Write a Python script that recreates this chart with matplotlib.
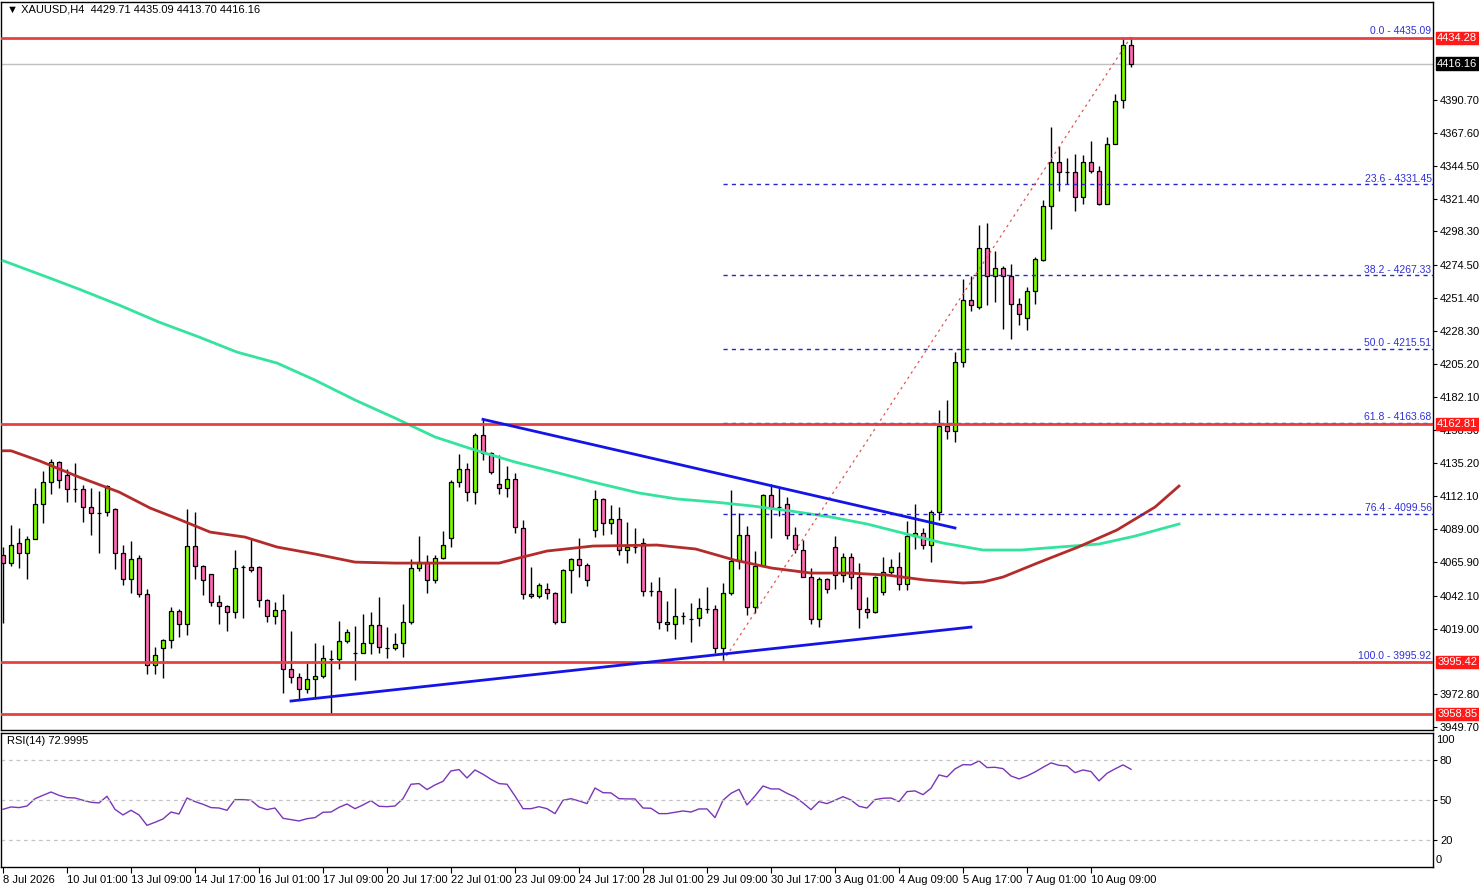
import numpy as np
import matplotlib
matplotlib.use('Agg')
import matplotlib.pyplot as plt

plt.rcParams['font.family'] = ['Liberation Sans Narrow', 'Liberation Sans', 'DejaVu Sans']
plt.rcParams['font.size'] = 8

# XAUUSD H4 candles
opens = [4070.7, 4065.0, 4079.1, 4072.1, 4081.9, 4106.5, 4122.0, 4136.1, 4126.9, 4117.1,
         4117.1, 4104.4, 4100.2, 4100.9, 4103.0, 4072.1, 4053.8, 4068.6, 4043.2, 3993.3,
         4005.3, 4010.9, 4031.3, 4022.1, 4077.0, 4062.9, 4057.3, 4037.6, 4034.8, 4030.6,
         4062.2, 4062.2, 4062.2, 4039.0, 4027.8, 4032.0, 3990.5, 3984.9, 3976.4, 3983.5,
         3985.6, 3997.5, 3997.5, 4010.2, 4001.8, 4001.8, 4008.8, 4021.4, 4005.3, 4005.3,
         4008.8, 4023.5, 4061.5, 4065.7, 4053.1, 4068.6, 4082.6, 4122.0, 4131.2, 4115.0,
         4155.1, 4142.4, 4120.6, 4117.8, 4124.1, 4089.7, 4043.2, 4041.8, 4046.8, 4043.9,
         4023.5, 4060.1, 4067.9, 4063.6, 4088.3, 4110.1, 4093.2, 4096.0, 4074.2, 4076.3,
         4079.1, 4045.4, 4045.4, 4023.5, 4022.1, 4027.8, 4025.7, 4026.4, 4032.7, 4032.7,
         4005.3, 4043.9, 4066.5, 4084.7, 4034.1, 4062.9, 4112.9, 4104.4, 4106.5, 4084.7,
         4074.2, 4055.2, 4025.7, 4053.8, 4076.3, 4056.6, 4069.3, 4055.2, 4032.7, 4030.6,
         4044.6, 4058.7, 4062.2, 4050.3, 4084.0, 4086.1, 4077.7, 4100.9, 4161.4, 4157.9,
         4206.4, 4250.0, 4245.1, 4286.6, 4266.9, 4272.5, 4266.9, 4247.2, 4237.4, 4256.3,
         4278.1, 4316.1, 4347.1, 4340.0, 4340.0, 4322.5, 4347.1, 4340.7, 4317.5, 4359.7,
         4390.7, 4429.71]
highs = [4076.3, 4091.8, 4089.7, 4084.0, 4117.8, 4129.7, 4138.2, 4136.8, 4131.2, 4135.4,
         4119.9, 4117.8, 4115.7, 4119.9, 4103.7, 4077.7, 4080.5, 4070.7, 4046.8, 4006.0,
         4011.6, 4034.1, 4032.7, 4103.0, 4100.9, 4063.6, 4057.5, 4042.5, 4035.5, 4074.2,
         4063.6, 4081.9, 4062.9, 4039.7, 4037.6, 4043.2, 4017.2, 3987.7, 3994.7, 4008.8,
         4007.4, 4003.9, 4024.3, 4018.6, 4020.7, 4029.2, 4030.6, 4041.1, 4020.0, 4015.8,
         4036.2, 4067.9, 4084.0, 4070.7, 4070.7, 4087.6, 4123.4, 4141.7, 4135.4, 4156.5,
         4166.1, 4143.1, 4141.0, 4133.3, 4128.3, 4095.3, 4062.2, 4051.0, 4051.0, 4044.6,
         4060.8, 4068.6, 4082.6, 4065.0, 4116.4, 4110.8, 4105.8, 4104.4, 4093.9, 4089.7,
         4082.6, 4051.7, 4055.2, 4038.3, 4047.5, 4030.6, 4036.9, 4040.4, 4048.2, 4035.5,
         4051.0, 4116.4, 4100.2, 4091.1, 4073.5, 4113.6, 4120.6, 4117.8, 4111.5, 4090.4,
         4081.2, 4061.5, 4055.2, 4054.5, 4084.0, 4072.1, 4072.1, 4065.0, 4041.1, 4055.9,
         4069.3, 4067.9, 4072.8, 4094.6, 4106.5, 4089.7, 4102.3, 4172.6, 4179.7, 4213.4,
         4264.8, 4266.9, 4302.8, 4304.2, 4284.5, 4273.9, 4275.3, 4251.4, 4259.2, 4280.3,
         4320.3, 4371.7, 4358.3, 4349.9, 4352.7, 4352.0, 4361.8, 4344.3, 4364.7, 4394.9,
         4434.0, 4435.09]
lows = [4022.8, 4062.9, 4061.5, 4053.8, 4081.9, 4093.2, 4113.6, 4117.8, 4107.9, 4107.9,
        4093.9, 4084.7, 4072.1, 4098.1, 4060.8, 4049.6, 4043.9, 4041.1, 3987.0, 3987.0,
        3984.2, 4005.3, 4013.0, 4014.4, 4053.8, 4042.5, 4034.8, 4022.1, 4017.2, 4026.4,
        4026.4, 4058.7, 4034.1, 4023.5, 4022.1, 3973.6, 3980.7, 3969.4, 3973.6, 3970.1,
        3984.2, 3958.85, 3990.5, 4008.8, 3982.8, 4001.8, 4001.0, 4001.8, 3998.2, 4003.9,
        3998.9, 4022.1, 4059.4, 4043.9, 4051.0, 4067.9, 4076.3, 4118.5, 4108.6, 4106.5,
        4137.5, 4127.6, 4113.6, 4111.5, 4086.1, 4039.7, 4040.4, 4040.4, 4039.7, 4022.1,
        4023.5, 4043.9, 4055.2, 4048.9, 4083.3, 4084.7, 4085.4, 4070.7, 4065.0, 4072.1,
        4041.8, 4041.8, 4018.6, 4017.2, 4011.6, 4022.1, 4009.5, 4020.7, 4029.9, 4001.8,
        3995.92, 4042.5, 4060.8, 4028.5, 4029.9, 4062.9, 4082.6, 4098.1, 4081.9, 4072.1,
        4055.2, 4022.1, 4020.0, 4043.9, 4046.8, 4051.7, 4046.8, 4019.3, 4026.4, 4029.9,
        4042.5, 4057.3, 4046.1, 4046.1, 4074.9, 4074.9, 4065.7, 4095.3, 4152.2, 4150.1,
        4202.9, 4242.3, 4243.7, 4246.5, 4248.6, 4229.6, 4222.6, 4232.4, 4228.9, 4247.2,
        4277.4, 4299.9, 4326.7, 4331.6, 4312.6, 4317.5, 4339.3, 4316.8, 4317.5, 4359.7,
        4385.0, 4413.70]
closes = [4065.0, 4077.7, 4072.1, 4081.9, 4106.5, 4122.0, 4136.1, 4123.4, 4117.1, 4117.0,
          4104.4, 4100.2, 4100.3, 4119.2, 4072.1, 4053.8, 4067.9, 4043.2, 3993.3, 4000.3,
          4010.9, 4031.3, 4022.1, 4077.0, 4062.9, 4053.1, 4037.6, 4034.8, 4030.6, 4061.5,
          4062.2, 4060.1, 4039.0, 4027.8, 4032.0, 3990.5, 3984.9, 3976.4, 3983.5, 3985.6,
          3998.2, 3997.5, 4010.2, 4016.5, 4001.8, 4008.8, 4021.4, 4006.0, 4005.3, 4008.1,
          4023.5, 4061.5, 4065.7, 4053.1, 4068.6, 4077.7, 4122.0, 4131.2, 4115.0, 4155.1,
          4142.4, 4129.0, 4117.8, 4124.1, 4090.4, 4043.2, 4041.8, 4049.6, 4043.9, 4023.5,
          4060.1, 4067.9, 4063.6, 4053.1, 4110.1, 4093.2, 4096.0, 4074.2, 4076.3, 4076.3,
          4045.4, 4045.4, 4023.5, 4022.1, 4027.8, 4027.8, 4025.7, 4033.4, 4032.7, 4005.3,
          4043.9, 4066.5, 4084.7, 4034.1, 4062.9, 4112.9, 4104.4, 4104.4, 4084.7, 4074.9,
          4055.2, 4025.7, 4053.8, 4046.8, 4056.6, 4069.3, 4055.2, 4032.7, 4030.6, 4055.2,
          4058.7, 4062.2, 4050.3, 4084.0, 4086.1, 4077.7, 4100.9, 4161.4, 4157.9, 4206.4,
          4250.0, 4246.5, 4286.6, 4266.9, 4272.5, 4266.9, 4247.2, 4240.2, 4256.3, 4278.9,
          4316.1, 4347.1, 4340.0, 4340.0, 4322.5, 4347.1, 4340.7, 4317.5, 4359.7, 4390.0,
          4429.4, 4416.16]

rsi = [43.0, 44.8, 44.3, 45.5, 51.0, 53.5, 56.0, 53.5, 51.8, 51.5,
       49.8, 48.3, 47.8, 52.8, 43.0, 38.8, 42.3, 38.8, 31.0, 33.3,
       35.8, 41.0, 39.5, 51.5, 48.8, 46.8, 44.3, 44.0, 42.3, 50.3,
       50.3, 49.8, 44.8, 42.8, 44.0, 36.3, 35.3, 34.3, 36.0, 36.8,
       40.8, 41.0, 44.5, 47.0, 43.5, 46.3, 49.5, 45.3, 45.0, 45.5,
       51.0, 61.8, 62.3, 57.8, 61.3, 64.0, 71.8, 72.8, 66.5, 72.5,
       69.3, 65.5, 62.3, 61.8, 53.0, 43.5, 43.5, 45.0, 43.5, 39.8,
       49.8, 51.0, 49.3, 47.3, 59.0, 55.5, 55.3, 51.0, 50.8, 50.8,
       44.0, 43.8, 39.8, 39.8, 40.8, 41.8, 41.0, 43.3, 43.3, 36.8,
       49.8, 55.0, 58.0, 46.3, 53.0, 60.5, 58.3, 58.3, 55.0, 52.3,
       47.8, 42.8, 48.8, 47.3, 49.8, 52.5, 50.0, 45.3, 44.0, 50.3,
       51.3, 51.5, 48.8, 56.3, 56.8, 54.0, 58.8, 68.8, 67.3, 73.3,
       76.5, 76.3, 79.3, 74.3, 74.5, 73.5, 68.0, 65.8, 68.0, 71.0,
       74.5, 77.8, 76.0, 75.5, 70.5, 72.5, 71.3, 64.3, 70.0, 73.3,
       76.3, 73.0]

# moving averages (shifted forward), sampled along the curve
ma_slow_bar = [0, 5.5, 9.5, 14.5, 19.5, 24.5, 29.25, 34.25, 39, 44, 49, 54, 59, 64, 69,
               73.75, 79.5, 84.25, 89, 93.75, 98.5, 103.5, 108, 113, 117.5, 122.5, 127.25,
               132, 137, 141.5, 147]
ma_slow_val = [4277.7, 4266.2, 4257.7, 4246.5, 4234.5, 4224.0, 4213.4, 4205.7, 4193.7, 4179.7,
               4167.0, 4153.7, 4144.5, 4136.1, 4129.0, 4122.0, 4114.3, 4110.1, 4107.9, 4105.1,
               4101.6, 4097.4, 4092.5, 4085.4, 4079.1, 4074.2, 4074.2, 4076.3, 4078.4, 4084.0,
               4092.5]
ma_fast_bar = [0, 1, 4.6, 9.5, 14.5, 18.4, 21.9, 25.9, 30.25, 34.25, 39, 44, 49, 54, 62, 64,
               68, 73.75, 81.75, 86.6, 91.4, 96.1, 101, 105.75, 110.5, 115.25, 120, 122.5,
               125, 129.6, 134.4, 139.25, 144, 147]
ma_fast_val = [4144.0, 4144.0, 4136.8, 4125.5, 4115.0, 4103.7, 4096.0, 4086.8, 4083.3, 4076.3,
               4071.4, 4065.7, 4065.0, 4065.0, 4065.0, 4067.9, 4073.5, 4077.0, 4077.7, 4074.9,
               4067.2, 4061.5, 4058.0, 4058.0, 4056.6, 4053.1, 4051.0, 4051.7, 4055.2, 4065.7,
               4076.3, 4088.3, 4104.4, 4119.2]

# drawn objects
hlevels = [4434.28, 4162.81, 3995.42, 3958.85]
res_line_bar = [60, 119]
res_line_val = [4166.1, 4089.7]
sup_line_bar = [36, 121]
sup_line_val = [3968.0, 4020.0]
fib_start = 90
fib_pct = [0.0, 23.6, 38.2, 50.0, 61.8, 76.4, 100.0]
fib_val = [4435.09, 4331.45, 4267.33, 4215.51, 4163.68, 4099.56, 3995.92]
fib_diag_bar = [90, 141]
fib_diag_val = [3995.92, 4435.09]
bid = 4416.16

price_ticks = [4390.70, 4367.60, 4344.50, 4321.40, 4298.30, 4274.50,
               4251.40, 4228.30, 4205.20, 4182.10, 4158.50, 4135.20, 4112.10, 4089.00,
               4065.90, 4042.10, 4019.00, 3972.80, 3949.70]
time_labels = ['8 Jul 2026', '10 Jul 01:00', '13 Jul 09:00', '14 Jul 17:00', '16 Jul 01:00',
               '17 Jul 09:00', '20 Jul 17:00', '22 Jul 01:00', '23 Jul 09:00', '24 Jul 17:00',
               '28 Jul 01:00', '29 Jul 09:00', '30 Jul 17:00', '3 Aug 01:00', '4 Aug 09:00',
               '5 Aug 17:00', '7 Aug 01:00', '10 Aug 09:00']

W, H = 1479, 888
fig = plt.figure(figsize=(W / 100, H / 100), dpi=100)


def px_axes(x0, y0, x1, y1):
    return fig.add_axes([x0 / W, 1 - y1 / H, (x1 - x0) / W, (y1 - y0) / H])


ax = px_axes(1, 2, 1433, 730)
axr = px_axes(1, 733, 1433, 867)

o = np.array(opens)
h = np.array(highs)
l = np.array(lows)
c = np.array(closes)
x = np.arange(len(o))
up = c >= o
cols = np.where(up, '#7cfc00', '#ff69b4')

ax.vlines(x, l, h, color='black', lw=1, zorder=2)
ax.bar(x, np.abs(c - o), width=0.5, bottom=np.minimum(o, c), color=cols,
       edgecolor='black', linewidth=0.9, zorder=2.2)

ax.plot(ma_slow_bar, ma_slow_val, color='#33e39e', lw=2, zorder=3)
ax.plot(ma_fast_bar, ma_fast_val, color='#b32b2b', lw=2, zorder=3)

ax.axhline(bid, color='#c0c0c0', lw=1, zorder=1)
# 0 and 100 levels sit under the red lines, so only the inner levels are drawn
for lv in fib_val[1:-1]:
    ax.plot([fib_start, 300], [lv, lv], color='#2828c8', lw=1, ls=(0, (3, 3)), zorder=3)
for pct, lv in zip(fib_pct, fib_val):
    ax.annotate(f'{pct:.1f} - {lv:.2f}', xy=(0.999, lv), xycoords=('axes fraction', 'data'),
                xytext=(0, 0.5), textcoords='offset points', ha='right', va='bottom',
                color='#3030d8', fontsize=7.5, zorder=5)
ax.plot(fib_diag_bar, fib_diag_val, color='#e05555', lw=0.9, ls=(0, (2, 3)), zorder=3)

for lv in hlevels:
    ax.axhline(lv, color='#e84040', lw=2, zorder=4)
ax.plot(res_line_bar, res_line_val, color='#1414e6', lw=2, zorder=4)
ax.plot(sup_line_bar, sup_line_val, color='#1414e6', lw=2, zorder=4)

xlim = (-0.25, 178.75)
ax.set_xlim(xlim)
ax.set_ylim(4461.03 - 0.7033 * 730, 4461.03 - 0.7033 * 2)
ax.set_xticks([])
ax.yaxis.tick_right()
ax.set_yticks(price_ticks, [f'{v:.2f}' for v in price_ticks])
ax.tick_params(axis='y', direction='out', length=3, pad=2, labelsize=8, width=0.8)

for lv in hlevels:
    ax.annotate(f'{lv:.2f}', xy=(1, lv), xycoords=('axes fraction', 'data'),
                xytext=(3, 0), textcoords='offset points', ha='left', va='center',
                color='white', fontsize=8, zorder=6, annotation_clip=False,
                bbox=dict(boxstyle='square,pad=0.12', fc='#ff1a1a', ec='#ff1a1a'))
ax.annotate(f'{bid:.2f}', xy=(1, bid), xycoords=('axes fraction', 'data'),
            xytext=(3, 0), textcoords='offset points', ha='left', va='center',
            color='white', fontsize=8, zorder=6, annotation_clip=False,
            bbox=dict(boxstyle='square,pad=0.12', fc='black', ec='black'))

# RSI panel
axr.plot(x, rsi, color='#7a35b8', lw=1)
for lv in [80, 50, 20]:
    axr.axhline(lv, color='#c4c4c4', lw=0.9, ls=(0, (3, 3)))
axr.set_xlim(xlim)
axr.set_ylim(-0.2, 100.2)
axr.yaxis.tick_right()
axr.set_yticks([80, 50, 20], ['80', '50', '20'])
axr.tick_params(axis='y', direction='out', length=3, pad=2, labelsize=8, width=0.8)
axr.text(1.002, 95, '100', transform=axr.get_yaxis_transform(), ha='left', va='center', fontsize=8)
axr.text(1.002, 5, '0', transform=axr.get_yaxis_transform(), ha='left', va='center', fontsize=8)
axr.set_xticks(np.arange(len(time_labels)) * 8, time_labels)
axr.tick_params(axis='x', direction='out', length=4, pad=2, labelsize=8, width=0.8)
for t in axr.get_xticklabels():
    t.set_ha('left')

for a in (ax, axr):
    for s in a.spines.values():
        s.set_color('black')
        s.set_linewidth(1)

fig.text(7 / W, 1 - 10 / H, '\u25bc XAUUSD,H4  4429.71 4435.09 4413.70 4416.16',
         ha='left', va='center', fontsize=8)
fig.text(7 / W, 1 - 741 / H, 'RSI(14) 72.9995', ha='left', va='center', fontsize=8)

fig.savefig('out.png', dpi=100)
